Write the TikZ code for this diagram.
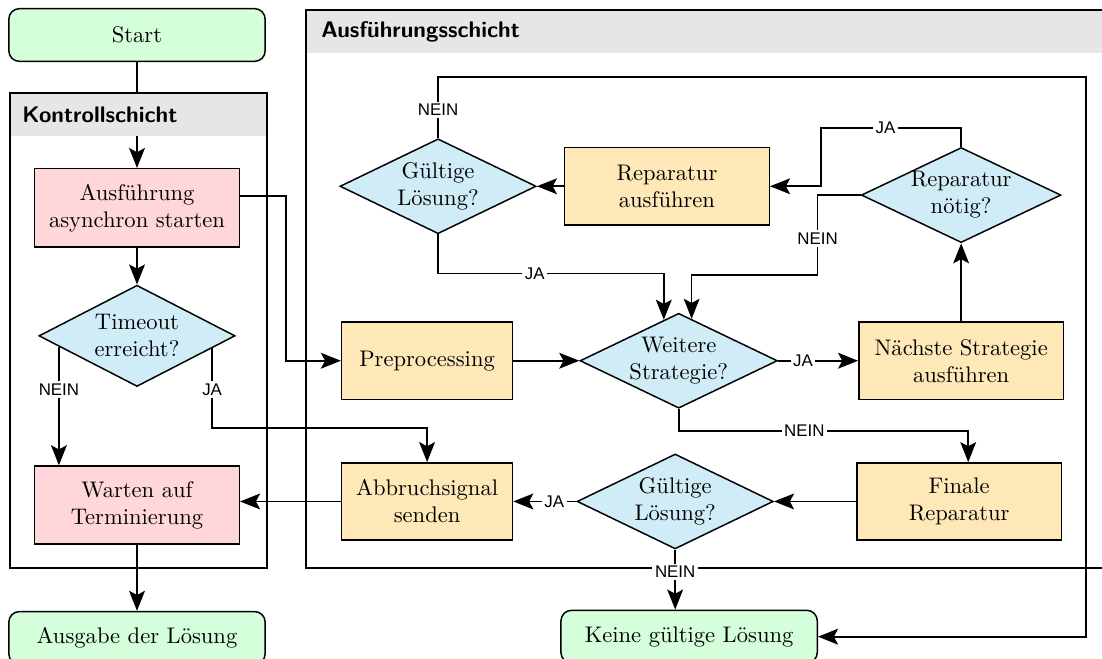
\documentclass[tikz,border=0pt]{standalone}
\usepackage{fontspec}
\usepackage{xcolor}
\usepackage{tikz}
\usetikzlibrary{positioning, arrows.meta, shapes.geometric, calc}

\newfontfamily\labelfont{Liberation Sans}

\definecolor{termgreen}{HTML}{D4FFDA}
\definecolor{ctrlred}{HTML}{FFD6D9}
\definecolor{execorange}{HTML}{FFE8B8}
\definecolor{decblue}{HTML}{D0ECF7}
\definecolor{headgray}{HTML}{E6E6E6}

\begin{document}
\begin{tikzpicture}[
    x=0.474pt, y=-0.474pt,
    font=\fontsize{10.7}{12.8}\selectfont,
    box/.style={rectangle, draw, line width=0.7pt, minimum height=36.6pt, align=center},
    term/.style={box, rounded corners=5pt, fill=termgreen, minimum width=121.5pt, minimum height=25pt},
    ctl/.style={box, fill=ctrlred, minimum width=97pt, minimum height=37pt},
    exec/.style={box, fill=execorange, minimum width=97pt},
    dec/.style={diamond, draw, line width=0.7pt, fill=decblue, align=center, inner sep=0pt, aspect=2.1, minimum width=93pt, minimum height=45pt},
    lbl/.style={fill=white, inner sep=1.2pt, font=\labelfont\fontsize{8}{9.5}\selectfont},
    title/.style={anchor=west, font=\sffamily\bfseries\fontsize{10.7}{13}\selectfont},
    layer/.style={draw, line width=0.7pt},
    arr/.style={-{Stealth[length=9.5pt, width=7.5pt, inset=2pt]}, line width=0.8pt}
]
\useasboundingbox (0,0) rectangle (1102,659);

% Kontrollschicht
\node[term] (start) at (137,35) {Start};
\node[ctl, below=50.2pt of start] (async) {Ausführung\\asynchron starten};
\node[dec, below=17.5pt of async, minimum height=48pt] (timeout) {Timeout\\erreicht?};
\node[ctl, below=37pt of timeout] (warten) {Warten auf\\Terminierung};
\node[term, below=31.3pt of warten] (ausgabe) {Ausgabe der Lösung};

% Ausfuehrungsschicht
\node[exec, right=49.8pt of timeout, yshift=-11.8pt, minimum width=81pt] (preproc) {Preprocessing};
\node[dec, right=31.3pt of preproc] (weitere) {Weitere\\Strategie?};
\node[exec, right=37.9pt of weitere] (naechste) {Nächste Strategie\\ausführen};
\node[dec, above=37pt of naechste] (repnoetig) {Reparatur\\nötig?};
\node[dec, above=41.2pt of preproc, xshift=5.2pt] (guelt1) {Gültige\\Lösung?};
\node[exec, right=12.8pt of guelt1] (reparatur) {Reparatur\\ausführen};
\node[exec, below=29.4pt of preproc, minimum width=81pt] (abbruch) {Abbruchsignal\\senden};
\node[dec, right=29.9pt of abbruch] (guelt2) {Gültige\\Lösung?};
\node[exec, right=38.9pt of guelt2] (finale) {Finale\\Reparatur};
\node[term, below=28.4pt of guelt2, xshift=6.6pt] (keine) {Keine gültige Lösung};

\draw[arr] (start) -- (async);

% frames
\fill[headgray] (10,93) rectangle (267,136);
\draw[layer] (10,93) rectangle (267,568);
\node[title] (ktitle) at (15,115) {Kontrollschicht};
\fill[headgray] (306,10) rectangle (1112,53);
\draw[layer] (306,10) rectangle (1112,568);
\node[title] (atitle) at (314,32) {Ausführungsschicht};

\coordinate (tn) at ($(timeout.west)!0.21!(timeout.south)$);
\coordinate (tj) at ($(timeout.east)!0.24!(timeout.south)$);
\coordinate (wl) at ($(weitere.north)!0.15!(weitere.west)$);
\coordinate (wr) at ($(weitere.north)!0.13!(weitere.east)$);

\draw[arr] (async) -- (timeout);
\draw[arr] (tn) -- node[lbl, pos=0.36] {NEIN} (tn |- warten.north);
\draw[arr] (tj) -- node[lbl, pos=0.52] {JA} ++(0,80) -| (abbruch.north);
\draw[arr] (warten) -- (ausgabe);
\draw[arr] (abbruch.west) -- (abbruch.west -| warten.east);
\draw[arr] ([yshift=5.7pt]async.east) -- ++(46,0) |- (preproc);

\draw[arr] (preproc) -- (weitere);
\draw[arr] (weitere) -- node[lbl, pos=0.31] {JA} (naechste);
\draw[arr] (naechste) -- (repnoetig);
\draw[arr] (repnoetig.north) |- node[lbl, pos=0.77] {JA} ++(-140,-19) |- (reparatur);
\draw[arr] (repnoetig.west) -| node[lbl, pos=0.77] {NEIN} ++(-43,80) -| (wr);
\draw[arr] (reparatur) -- (guelt1);
\draw[arr] (guelt1.south) -- ++(0,39) -| node[lbl, pos=0.214] {JA} (wl);
\draw[arr] (guelt1.north) -- node[lbl, pos=0.46] {NEIN} ++(0,-61) -| ($(keine.east)+(268,0)$) -- (keine.east);
\draw[arr] (weitere.south) -- ++(0,22) -| node[lbl, pos=0.217] {NEIN} ([xshift=4.3pt]finale.north);
\draw[arr] (finale) -- (guelt2);
\draw[arr] (guelt2) -- node[lbl, pos=0.35] {JA} (abbruch);
\draw[arr] (guelt2.south) -- node[lbl, pos=0.37] {NEIN} (guelt2.south |- keine.north);
\end{tikzpicture}
\end{document}
